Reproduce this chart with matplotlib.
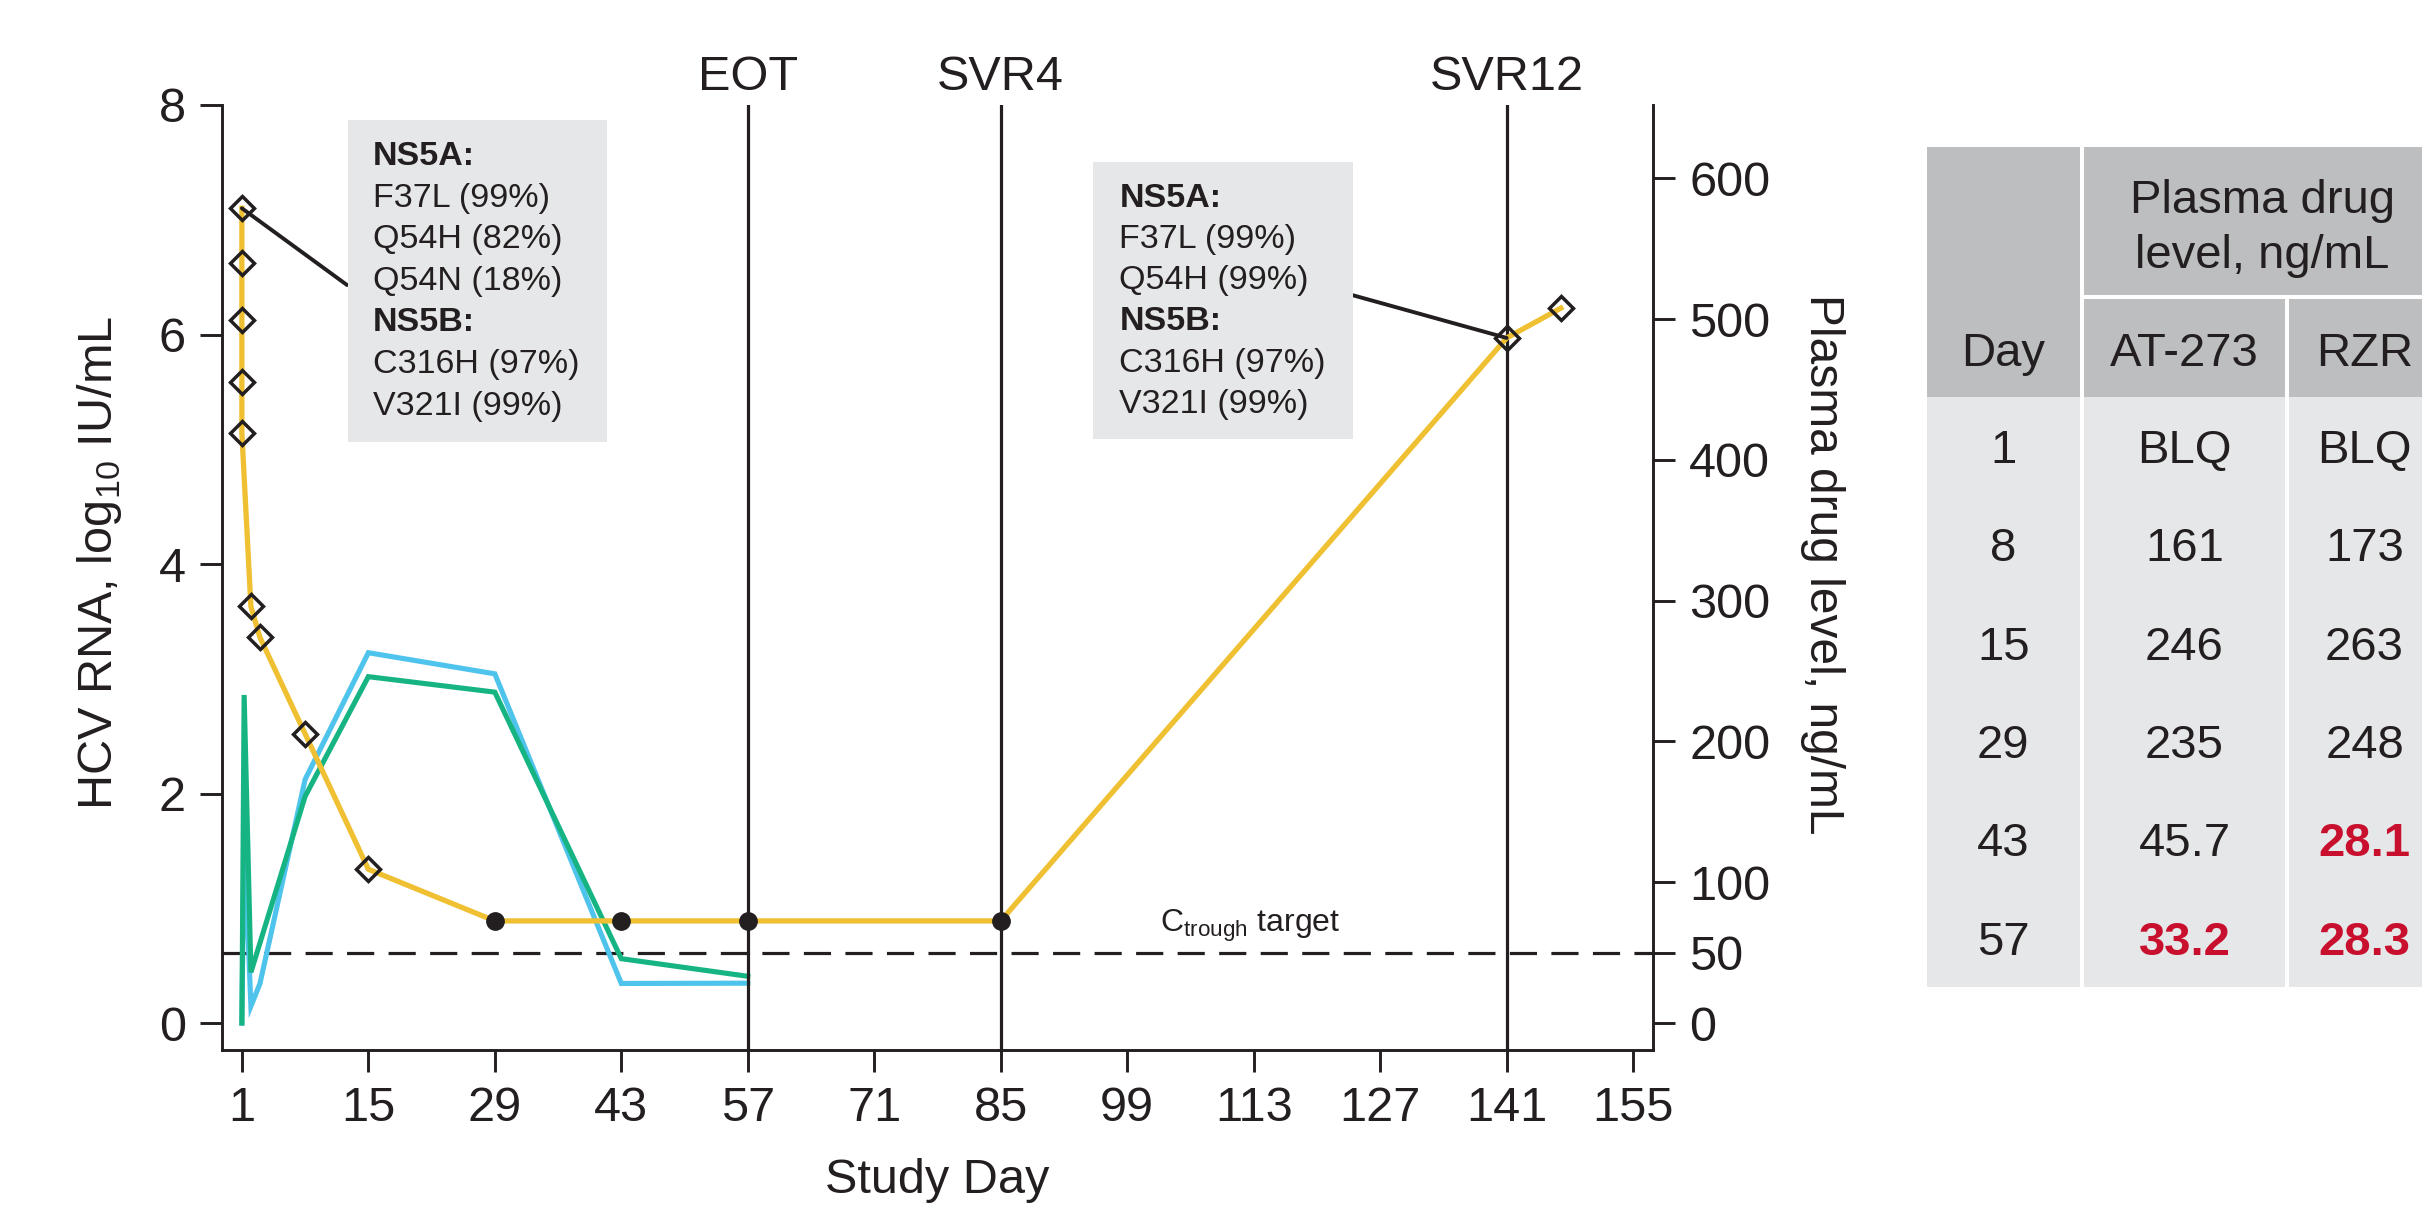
import matplotlib
matplotlib.use("Agg")
import matplotlib.pyplot as plt
import matplotlib.transforms as mtransforms
from matplotlib.patches import Rectangle

plt.rcParams['font.family'] = ['Liberation Sans', 'DejaVu Sans']

W, H = 2422, 1209
DARK = '#231f20'
YEL = '#efc032'
GRN = '#17b483'
BLU = '#4ec3ec'
BOX_GREY = '#e6e7e8'
HEAD_GREY = '#bcbec0'
RED = '#c8102e'

# HCV RNA, log10 IU/mL (left axis)
hcv_days = [1, 1, 1, 1, 1, 2, 3, 8, 15, 29, 43, 57, 85, 141, 147]
hcv_log = [7.10, 6.62, 6.13, 5.59, 5.14, 3.63, 3.36, 2.52, 1.34, 0.89, 0.89, 0.89, 0.89, 5.97, 6.23]
hcv_below_lloq = [False] * 9 + [True] * 4 + [False] * 2

# plasma drug levels, ng/mL (right axis)
at273_days = [1, 1.25, 2, 8, 15, 29, 43, 57]
at273_ng = [0, 233, 36, 161, 246, 235, 45.7, 33.2]
rzr_days = [1, 1.25, 2, 3, 8, 15, 29, 43, 57]
rzr_ng = [0, 132, 12, 28, 173, 263, 248, 28.1, 28.3]

ctrough_target = 50
event_labels = ['EOT', 'SVR4', 'SVR12']
event_days = [57, 85, 141]
x_ticks = list(range(1, 156, 14))
left_ticks = [0, 2, 4, 6, 8]
right_ticks = [0, 50, 100, 200, 300, 400, 500, 600]

box1_lines = ['NS5A:', 'F37L (99%)', 'Q54H (82%)', 'Q54N (18%)', 'NS5B:', 'C316H (97%)', 'V321I (99%)']
box2_lines = ['NS5A:', 'F37L (99%)', 'Q54H (99%)', 'NS5B:', 'C316H (97%)', 'V321I (99%)']

table_days = ['1', '8', '15', '29', '43', '57']
table_at273 = ['BLQ', '161', '246', '235', '45.7', '33.2']
table_rzr = ['BLQ', '173', '263', '248', '28.1', '28.3']
table_at273_red = [False, False, False, False, False, True]
table_rzr_red = [False, False, False, False, True, True]

ng_per_log = 81.5
ylo, yhi = -0.235, 8.0


def fx(x):
    return x / W


def fy(y):
    return 1 - y / H


def rect(x0, y0, x1, y1, color, z=1):
    fig.add_artist(Rectangle((fx(x0), fy(y1)), (x1 - x0) / W, (y1 - y0) / H,
                             transform=fig.transFigure, fc=color, ec='none', zorder=z))


fig = plt.figure(figsize=(W / 100, H / 100), dpi=100)
ax = fig.add_axes([fx(222), fy(1050), (1653 - 222) / W, (1050 - 105) / H])
ax2 = ax.twinx()
ax.set_zorder(2)
ax.patch.set_visible(False)

ax.set_xlim(-1.2, 157.2)
ax.set_ylim(ylo, yhi)
ax2.set_ylim(ylo * ng_per_log, yhi * ng_per_log)

for s in ['top', 'right']:
    ax.spines[s].set_visible(False)
for s in ['top', 'left', 'bottom']:
    ax2.spines[s].set_visible(False)
for s in ['left', 'bottom']:
    ax.spines[s].set_linewidth(2.1)
    ax.spines[s].set_color(DARK)
ax2.spines['right'].set_linewidth(2.1)
ax2.spines['right'].set_color(DARK)

ax.set_xticks(x_ticks)
ax.set_yticks(left_ticks)
ax2.set_yticks(right_ticks)
ax.tick_params(axis='both', direction='out', length=16, width=2.1, pad=10,
               labelsize=35, colors=DARK)
ax2.tick_params(axis='y', direction='out', length=16, width=2.1, pad=10,
                labelsize=35, colors=DARK)

# drug levels
ax2.plot(rzr_days, rzr_ng, color=BLU, lw=3.7, solid_joinstyle='miter', zorder=2)
ax2.plot(at273_days, at273_ng, color=GRN, lw=3.7, solid_joinstyle='miter', zorder=3)
ax2.axhline(ctrough_target, color=DARK, lw=2.3, ls=(0, (8.5, 4.5)), zorder=1)

# event lines
blend = mtransforms.blended_transform_factory(ax.transData, ax.transAxes)
for d, lab in zip(event_days, event_labels):
    ax.axvline(d, color=DARK, lw=2.3, zorder=1)
    ax.text(d, 1 + 15 / 945, lab, transform=blend, ha='center', va='baseline',
            fontsize=35, color=DARK)

# HCV RNA
ax.plot(hcv_days, hcv_log, color=YEL, lw=3.8, zorder=3)
dx = [d for d, b in zip(hcv_days, hcv_below_lloq) if not b]
dy = [v for v, b in zip(hcv_log, hcv_below_lloq) if not b]
cx = [d for d, b in zip(hcv_days, hcv_below_lloq) if b]
cy = [v for v, b in zip(hcv_log, hcv_below_lloq) if b]
ax.plot(dx, dy, 'D', ms=12, mfc='none', mec=DARK, mew=2.5, zorder=6)
ax.plot(cx, cy, 'o', ms=12.5, color=DARK, zorder=6)

ax.text(112.6, 0.80, r'C$_{\mathregular{trough}}$ target', ha='center', va='baseline',
        fontsize=23, color=DARK)

# leader lines to mutation boxes
ax.annotate('', xy=(hcv_days[0], hcv_log[0]), xycoords='data',
            xytext=(fx(347), fy(285)), textcoords='figure fraction',
            arrowprops=dict(arrowstyle='-', color=DARK, lw=2.8, shrinkA=0, shrinkB=0),
            zorder=5)
ax.annotate('', xy=(hcv_days[13], hcv_log[13]), xycoords='data',
            xytext=(fx(1352), fy(295)), textcoords='figure fraction',
            arrowprops=dict(arrowstyle='-', color=DARK, lw=2.8, shrinkA=0, shrinkB=0),
            zorder=5)

# mutation boxes
rect(347.7, 120, 606.7, 441.7, BOX_GREY, z=3)
for i, line in enumerate(box1_lines):
    fig.text(fx(372.7), fy(165 + 41.6 * i), line, fontsize=24.5, va='baseline', color=DARK,
             fontweight='bold' if line.endswith(':') else 'normal', zorder=4)
rect(1093.3, 161.7, 1352.7, 439.3, BOX_GREY, z=3)
for i, line in enumerate(box2_lines):
    fig.text(fx(1119.3), fy(206.7 + 41.2 * i), line, fontsize=24.5, va='baseline', color=DARK,
             fontweight='bold' if line.endswith(':') else 'normal', zorder=4)

# axis labels
fig.text(fx(100), fy(563), r'HCV RNA, log$_{\mathregular{10}}$ IU/mL', rotation=90,
         ha='center', va='center', fontsize=35, color=DARK)
fig.text(fx(1822), fy(564), 'Plasma drug level, ng/mL', rotation=270,
         ha='center', va='center', fontsize=34.5, color=DARK)
fig.text(fx(937.5), fy(1193), 'Study Day', ha='center', va='baseline', fontsize=35, color=DARK)

# table of plasma drug levels
c_day = (1926.7, 2080)
c_at = (2084, 2285)
c_rzr = (2289, 2440)
t_top, h1_bot, h2_top, h_bot, t_bot = 146.7, 295, 299.3, 396.7, 987
rect(c_day[0], t_top, c_day[1], h_bot, HEAD_GREY)
rect(c_at[0], t_top, c_rzr[1], h1_bot, HEAD_GREY)
rect(c_at[0], h2_top, c_at[1], h_bot, HEAD_GREY)
rect(c_rzr[0], h2_top, c_rzr[1], h_bot, HEAD_GREY)
for c in (c_day, c_at, c_rzr):
    rect(c[0], h_bot, c[1], t_bot, BOX_GREY)

tfs = 34
fig.text(fx(2262), fy(213.3), 'Plasma drug', ha='center', va='baseline', fontsize=tfs, color=DARK)
fig.text(fx(2262), fy(268.3), 'level, ng/mL', ha='center', va='baseline', fontsize=tfs, color=DARK)
for c, lab in zip((c_day, c_at, c_rzr), ('Day', 'AT-273', 'RZR')):
    fig.text(fx(sum(c) / 2), fy(366), lab, ha='center', va='baseline', fontsize=tfs, color=DARK)

row_h = (t_bot - h_bot) / len(table_days)
for i in range(len(table_days)):
    base = h_bot + row_h * (i + 0.5) + 17
    fig.text(fx(sum(c_day) / 2), fy(base), table_days[i], ha='center', va='baseline',
             fontsize=tfs, color=DARK)
    for c, vals, reds in ((c_at, table_at273, table_at273_red), (c_rzr, table_rzr, table_rzr_red)):
        fig.text(fx(sum(c) / 2), fy(base), vals[i], ha='center', va='baseline', fontsize=tfs,
                 color=RED if reds[i] else DARK, fontweight='bold' if reds[i] else 'normal')

fig.savefig('out.png', dpi=100)
